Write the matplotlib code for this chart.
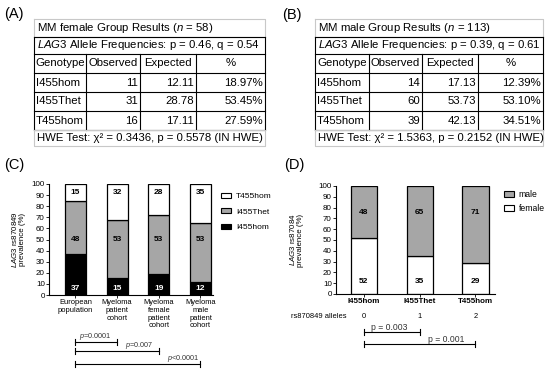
import matplotlib
matplotlib.use('Agg')
import matplotlib.pyplot as plt
from matplotlib.patches import Patch

plt.rcParams['font.family'] = ['Liberation Sans', 'DejaVu Sans']
plt.rcParams['mathtext.fontset'] = 'custom'
plt.rcParams['mathtext.rm'] = 'Liberation Sans'
plt.rcParams['mathtext.it'] = 'Liberation Sans:italic'
plt.rcParams['mathtext.bf'] = 'Liberation Sans:bold'

# ---- data ----
genotypes = ['I455hom', 'I455Thet', 'T455hom']
female_obs = [11, 31, 16]
female_exp = [12.11, 28.78, 17.11]
female_pct = [18.97, 53.45, 27.59]
male_obs = [14, 60, 39]
male_exp = [17.13, 53.73, 42.13]
male_pct = [12.39, 53.10, 34.51]

cohorts = ['European\npopulation', 'Myeloma\npatient\ncohort',
           'Myeloma\nfemale\npatient\ncohort', 'Myeloma\nmale\npatient\ncohort']
c_i455hom = [37, 15, 19, 12]
c_i455thet = [48, 53, 53, 53]
c_t455hom = [15, 32, 28, 35]
c_pvals = ['$\\it{p}$=0.0001', '$\\it{p}$=0.007', '$\\it{p}$<0.0001']

d_female = [52, 35, 29]
d_male = [48, 65, 71]
d_alleles = ['0', '1', '2']
d_pvals = ['p = 0.003', 'p = 0.001']

W, H = 550, 375
fig = plt.figure(figsize=(5.5, 3.75), dpi=100)
ov = fig.add_axes([0, 0, 1, 1])
ov.set_xlim(0, W)
ov.set_ylim(H, 0)
ov.axis('off')

def px_axes(l, r, t, b):
    return fig.add_axes([l / W, 1 - b / H, (r - l) / W, (b - t) / H])

FS = 8.2
def draw_table(x0, x1, cols, title, allele, obs, exp, pct, hwe):
    ys = [19, 37, 54, 73, 92, 111, 130, 146]
    lc = '#c8c8c8'
    # title row (light border)
    ov.plot([x0, x1, x1, x0, x0], [ys[0], ys[0], ys[1], ys[1], ys[0]], color=lc, lw=0.8)
    ov.text(x0 + 3, (ys[0] + ys[1]) / 2, title, fontsize=FS, va='center')
    # main grid
    for y in ys[1:7]:
        ov.plot([x0, x1], [y, y], color='k', lw=0.8)
    ov.plot([x0, x0], [ys[1], ys[6]], color='k', lw=0.8)
    ov.plot([x1, x1], [ys[1], ys[6]], color='k', lw=0.8)
    for c in cols:
        ov.plot([c, c], [ys[2], ys[6]], color='k', lw=0.8)
    ov.text(x0 + 3, (ys[1] + ys[2]) / 2, allele, fontsize=FS, va='center')
    edges = [x0] + cols + [x1]
    for i, h in enumerate(['Genotype', 'Observed', 'Expected', '%']):
        ov.text((edges[i] + edges[i + 1]) / 2, (ys[2] + ys[3]) / 2, h,
                fontsize=FS, ha='center', va='center')
    for r in range(3):
        yc = (ys[3 + r] + ys[4 + r]) / 2
        ov.text(x0 + 2, yc, genotypes[r], fontsize=FS, va='center')
        vals = [str(obs[r]), '%.2f' % exp[r], '%.2f%%' % pct[r]]
        for k in range(3):
            ov.text(edges[k + 2] - 2, yc, vals[k], fontsize=FS, ha='right', va='center')
    # HWE row (light border)
    ov.plot([x0, x1, x1, x0, x0], [ys[6], ys[6], ys[7], ys[7], ys[6]], color=lc, lw=0.8)
    ov.text(x0 + 3, (ys[6] + ys[7]) / 2, hwe, fontsize=FS, va='center')

draw_table(34, 265, [86, 140, 196], 'MM female Group Results ($\\it{n}$ = 58)',
           '$\\it{LAG3}$ Allele Frequencies: p = 0.46, q = 0.54',
           female_obs, female_exp, female_pct,
           'HWE Test: χ² = 0.3436, p = 0.5578 (IN HWE)')
draw_table(315, 543, [369, 422, 478], 'MM male Group Results ($\\it{n}$ = 113)',
           '$\\it{LAG3}$ Allele Frequencies: p = 0.39, q = 0.61',
           male_obs, male_exp, male_pct,
           'HWE Test: χ² = 1.5363, p = 0.2152 (IN HWE)')

for lab, x, y in [('(A)', 4, 14), ('(B)', 282, 15), ('(C)', 4, 165), ('(D)', 284, 165)]:
    ov.text(x, y, lab, fontsize=10.5, va='center')

gray = '#a6a6a6'

def style(ax):
    for s in ['top', 'right']:
        ax.spines[s].set_visible(False)
    for s in ['left', 'bottom']:
        ax.spines[s].set_linewidth(0.8)
    ax.set_ylim(0, 100)
    ax.set_yticks(range(0, 101, 10))
    ax.tick_params(labelsize=5.8, length=2, width=0.6, pad=1)

# ---- panel C ----
axc = px_axes(49, 213, 184, 295)
xc = range(len(cohorts))
bw = 0.5
axc.bar(xc, c_i455hom, bw, color='black', edgecolor='black', lw=0.9, label='I455hom')
axc.bar(xc, c_i455thet, bw, bottom=c_i455hom, color=gray, edgecolor='black', lw=0.9, label='I455Thet')
bot = [a + b for a, b in zip(c_i455hom, c_i455thet)]
axc.bar(xc, c_t455hom, bw, bottom=bot, color='white', edgecolor='black', lw=0.9, label='T455hom')
for i in xc:
    axc.text(i, 6, str(c_i455hom[i]), color='white', fontsize=6, fontweight='bold', ha='center', va='center')
    axc.text(i, 50, str(c_i455thet[i]), color='black', fontsize=6, fontweight='bold', ha='center', va='center')
    axc.text(i, 92, str(c_t455hom[i]), color='black', fontsize=6, fontweight='bold', ha='center', va='center')
style(axc)
axc.set_xlim(-0.635, 3.3)
axc.set_xticks(list(xc))
axc.set_xticklabels(cohorts, fontsize=5.4, linespacing=1.15)
axc.set_ylabel('$\\it{LAG3}$ rs870849\nprevalence (%)', fontsize=5.7, linespacing=1.1)
axc.yaxis.set_label_coords(-0.14, 0.5)
hc = [Patch(facecolor='white', edgecolor='black', lw=0.8, label='T455hom'),
      Patch(facecolor=gray, edgecolor='black', lw=0.8, label='I455Thet'),
      Patch(facecolor='black', edgecolor='black', lw=0.8, label='I455hom')]
axc.legend(handles=hc, loc='upper left', bbox_to_anchor=(213 / W, 1 - 185 / H),
           bbox_transform=fig.transFigure, frameon=False, fontsize=6,
           handlelength=1.3, handleheight=0.6, labelspacing=0.95, handletextpad=0.6)
# significance brackets
c_br = [(0, 1, -42.3), (0, 2, -50.5), (0, 3, -62.2)]
c_tx = [(0.47, -37.5), (1.53, -45.8), (2.58, -57.5)]
for (a, b, y), (tx, ty), p in zip(c_br, c_tx, c_pvals):
    axc.plot([a, b], [y, y], color='k', lw=0.8, clip_on=False)
    for xx in (a, b):
        axc.plot([xx, xx], [y - 3, y + 3], color='k', lw=0.8, clip_on=False)
    axc.text(tx, ty, p, fontsize=5.2, ha='center', va='center', color='#333333')

# ---- panel D ----
axd = px_axes(336, 495, 186, 294)
xd = range(len(genotypes))
bw = 0.47
axd.bar(xd, d_female, bw, color='white', edgecolor='black', lw=0.9, label='female')
axd.bar(xd, d_male, bw, bottom=d_female, color=gray, edgecolor='black', lw=0.9, label='male')
for i in xd:
    axd.text(i, 12, str(d_female[i]), fontsize=6, fontweight='bold', ha='center', va='center')
    axd.text(i, 75, str(d_male[i]), fontsize=6, fontweight='bold', ha='center', va='center')
style(axd)
axd.set_xlim(-0.5, 2.35)
axd.set_xticks(list(xd))
axd.set_xticklabels(genotypes, fontsize=5.8, fontweight='bold')
axd.set_ylabel('$\\it{LAG3}$ rs87084\nprevalence (%)', fontsize=5.7, linespacing=1.1)
axd.yaxis.set_label_coords(-0.2, 0.5)
axd.text(-0.32, -20.5, 'rs870849 alleles', fontsize=5.4, ha='right', va='center', clip_on=False)
for i in xd:
    axd.text(i, -20.5, d_alleles[i], fontsize=5.4, ha='center', va='center', clip_on=False)
hd = [Patch(facecolor=gray, edgecolor='black', lw=0.8, label='male'),
      Patch(facecolor='white', edgecolor='black', lw=0.8, label='female')]
axd.legend(handles=hd, loc='upper left', bbox_to_anchor=(497 / W, 1 - 183 / H),
           bbox_transform=fig.transFigure, frameon=False, fontsize=6.2,
           handlelength=1.2, handleheight=0.6, labelspacing=0.6, handletextpad=0.5,
           borderpad=0.3)
d_br = [(0, 1, -35.2), (0, 2, -46.3)]
d_tx = [(0.45, -31.0), (1.47, -42.0)]
for (a, b, y), (tx, ty), p in zip(d_br, d_tx, d_pvals):
    axd.plot([a, b], [y, y], color='k', lw=0.8, clip_on=False)
    for xx in (a, b):
        axd.plot([xx, xx], [y - 3, y + 3], color='k', lw=0.8, clip_on=False)
    axd.text(tx, ty, p, fontsize=6.2, ha='center', va='center', color='#333333')

fig.savefig('out.png', dpi=100)
